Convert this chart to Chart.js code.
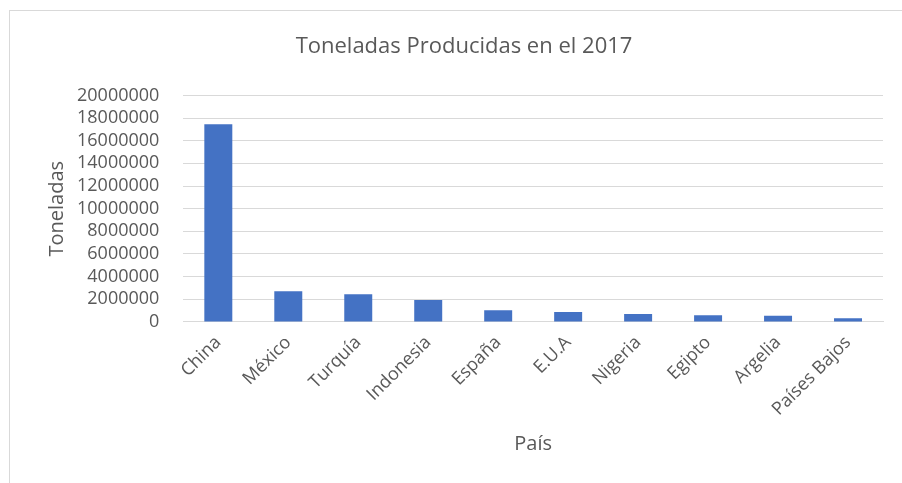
<!DOCTYPE html>
<html>
<head>
<meta charset="utf-8">
<script src="https://cdn.jsdelivr.net/npm/chart.js@4"></script>
<style>
  body { margin: 0; background: #fff; }
  #wrap { position: relative; width: 902px; height: 483px; }
  #frame { position: absolute; left: 9px; top: 10px; width: 893px; height: 473px;
           border-left: 1px solid #D9D9D9; border-top: 1px solid #D9D9D9; box-sizing: border-box; }
  #grafico { position: absolute; left: 0; top: 0; }
</style>
</head>
<body>
<div id="wrap">
  <div id="frame"></div>
  <canvas id="grafico" width="902" height="483"></canvas>
</div>
<script>
// Datos: toneladas producidas por país en 2017
const paises = ['China', 'México', 'Turquía', 'Indonesia', 'España', 'E.U.A', 'Nigeria', 'Egipto', 'Argelia', 'Países Bajos'];
const toneladas = [17460000, 2720000, 2450000, 1950000, 1030000, 890000, 700000, 600000, 560000, 330000];

const gris = '#595959';
const fuente = 'Open Sans';

var ctx = document.getElementById('grafico').getContext('2d');
var grafico = new Chart(ctx, {
    type: 'bar',
    data: {
        labels: paises,
        datasets: [{
            label: 'Toneladas',
            data: toneladas,
            backgroundColor: '#4472C4',
            borderWidth: 0,
            barPercentage: 0.4,
            categoryPercentage: 1
        }]
    },
    options: {
        responsive: false,
        animation: false,
        layout: { padding: { left: 45, top: 34, right: 19, bottom: 23 } },
        plugins: {
            legend: { display: false },
            tooltip: { enabled: false },
            title: {
                display: true,
                text: 'Toneladas Producidas en el 2017',
                color: gris,
                font: { family: fuente, size: 22, weight: 'normal' },
                padding: { top: 0, bottom: 35 }
            }
        },
        scales: {
            x: {
                grid: { display: false },
                border: { color: '#D9D9D9' },
                ticks: {
                    color: gris,
                    font: { family: fuente, size: 18 },
                    minRotation: 45,
                    maxRotation: 45,
                    autoSkip: false,
                    padding: 2
                },
                title: {
                    display: true,
                    text: 'País',
                    color: gris,
                    font: { family: fuente, size: 20 },
                    padding: { top: 10 }
                }
            },
            y: {
                min: 0,
                max: 20000000,
                grid: { color: '#D9D9D9', lineWidth: 1, drawTicks: false },
                border: { display: false },
                ticks: {
                    stepSize: 2000000,
                    autoSkip: false,
                    color: gris,
                    font: { family: fuente, size: 18 },
                    padding: 24,
                    callback: function(v) { return String(v); }
                },
                title: {
                    display: true,
                    text: 'Toneladas',
                    color: gris,
                    font: { family: fuente, size: 20 },
                    padding: { top: 0, bottom: 0 }
                },
                // acercar el título del eje a las etiquetas
                afterFit: function(scale) { scale.width -= 16; }
            }
        }
    }
});
</script>
</body>
</html>
